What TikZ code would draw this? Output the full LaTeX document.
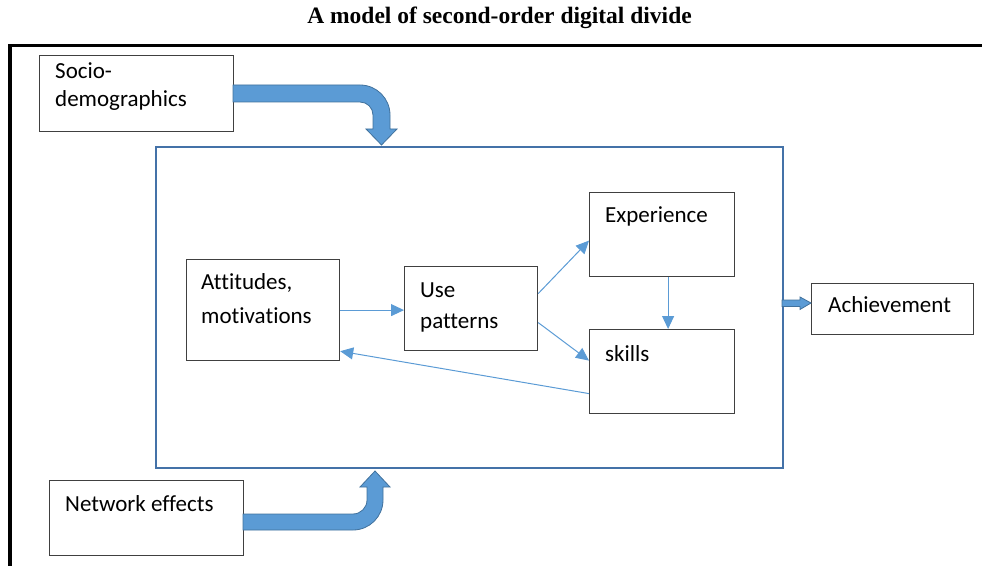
\documentclass[tikz,border=0pt]{standalone}
\usepackage{fontspec}
\setmainfont{Carlito}[Ligatures=NoCommon]
\newfontfamily\titlefont{Liberation Serif}
\usetikzlibrary{arrows.meta}
\definecolor{arrowfill}{HTML}{5B9BD5}
\definecolor{arrowline}{HTML}{41719C}
\definecolor{framec}{HTML}{4472A8}
\definecolor{boxline}{HTML}{404040}
\begin{document}
\begin{tikzpicture}[x=1bp,y=-1bp,
  box/.style={draw=boxline,line width=1.2bp,rectangle,inner sep=0pt,anchor=north west},
  lbl/.style={anchor=base west,inner sep=0pt,font=\fontsize{23bp}{28bp}\selectfont},
  thin/.style={draw=arrowfill,line width=1bp,-{Triangle[length=13bp,width=12bp]}},
  blockarrow/.style={fill=arrowfill,draw=arrowline,line width=0.8bp}]
\useasboundingbox (0,0) rectangle (982,566);
% title
\node[anchor=base,inner sep=0pt,font=\titlefont\bfseries\fontsize{23.5bp}{26bp}\selectfont] (title) at (499.5,24) {A model of second-order digital divide};
% outer frame lines
\draw[line width=3.5bp,line join=miter] (10,566) -- (10,45.5) -- (982,45.5);
% big blue frame
\node[box,draw=framec,line width=2bp,minimum width=627bp,minimum height=321bp] (frame) at (155,146) {};
% boxes
\node[box,minimum width=194bp,minimum height=76bp] (socio) at (39,55) {};
\node[box,minimum width=194bp,minimum height=75bp] (network) at (49,480) {};
\node[box,minimum width=153bp,minimum height=101bp] (att) at (186,259) {};
\node[box,minimum width=133bp,minimum height=84bp] (use) at (404,266) {};
\node[box,minimum width=145bp,minimum height=84bp] (exp) at (589,192) {};
\node[box,minimum width=145bp,minimum height=84bp] (skills) at (589,329) {};
\node[box,minimum width=162bp,minimum height=51bp] (ach) at (811,283) {};
% labels
\node[lbl] (socio1) at (55,79) {Socio-};
\node[lbl] (socio2) at (55,107) {demographics};
\node[lbl] (net1) at (65,511) {Network effects};
\node[lbl] (att1) at (201,290) {Attitudes,};
\node[lbl] (att2) at (201,323) {motivations};
\node[lbl] (use1) at (420,297) {Use};
\node[lbl] (use2) at (420,328) {patterns};
\node[lbl] (exp1) at (605,223) {Experience};
\node[lbl] (sk1) at (605,361) {skills};
\node[lbl] (ach1) at (828,312) {Achievement};
% thin arrows
\draw[thin] (att.east) -- (att.east -| use.west);
\draw[thin] ([yshift=15bp]use.east) -- ([yshift=-6bp]exp.west);
\draw[thin] ([yshift=-14bp]use.east) -- ([yshift=11bp]skills.west);
\draw[thin] ([xshift=6bp]exp.south) -- ([xshift=6bp]exp.south |- skills.north);
\draw[thin] ([yshift=-22bp]skills.west) -- ([yshift=10bp]att.south east);
% block arrow from socio-demographics
\draw[blockarrow] (233,85) -- (360,85) .. controls (376.6,85) and (390,98.4) .. (390,115)
  -- (390,129) -- (397,129) -- (381.5,145) -- (366,129) -- (373,129) -- (373,115)
  .. controls (373,107.8) and (367.2,102) .. (360,102) -- (233,102) -- cycle;
% block arrow from network effects
\draw[blockarrow] (243,530) -- (353,530) .. controls (369.6,530) and (383,516.6) .. (383,500)
  -- (383,487) -- (390,487) -- (375,471) -- (360,487) -- (367,487) -- (367,500)
  .. controls (367,507.7) and (360.7,514) .. (353,514) -- (243,514) -- cycle;
% block arrow to achievement
\draw[blockarrow] (782,300) -- (800,300) -- (800,297) -- (811,303) -- (800,309.5) -- (800,306.5) -- (782,306.5) -- cycle;
\end{tikzpicture}
\end{document}
